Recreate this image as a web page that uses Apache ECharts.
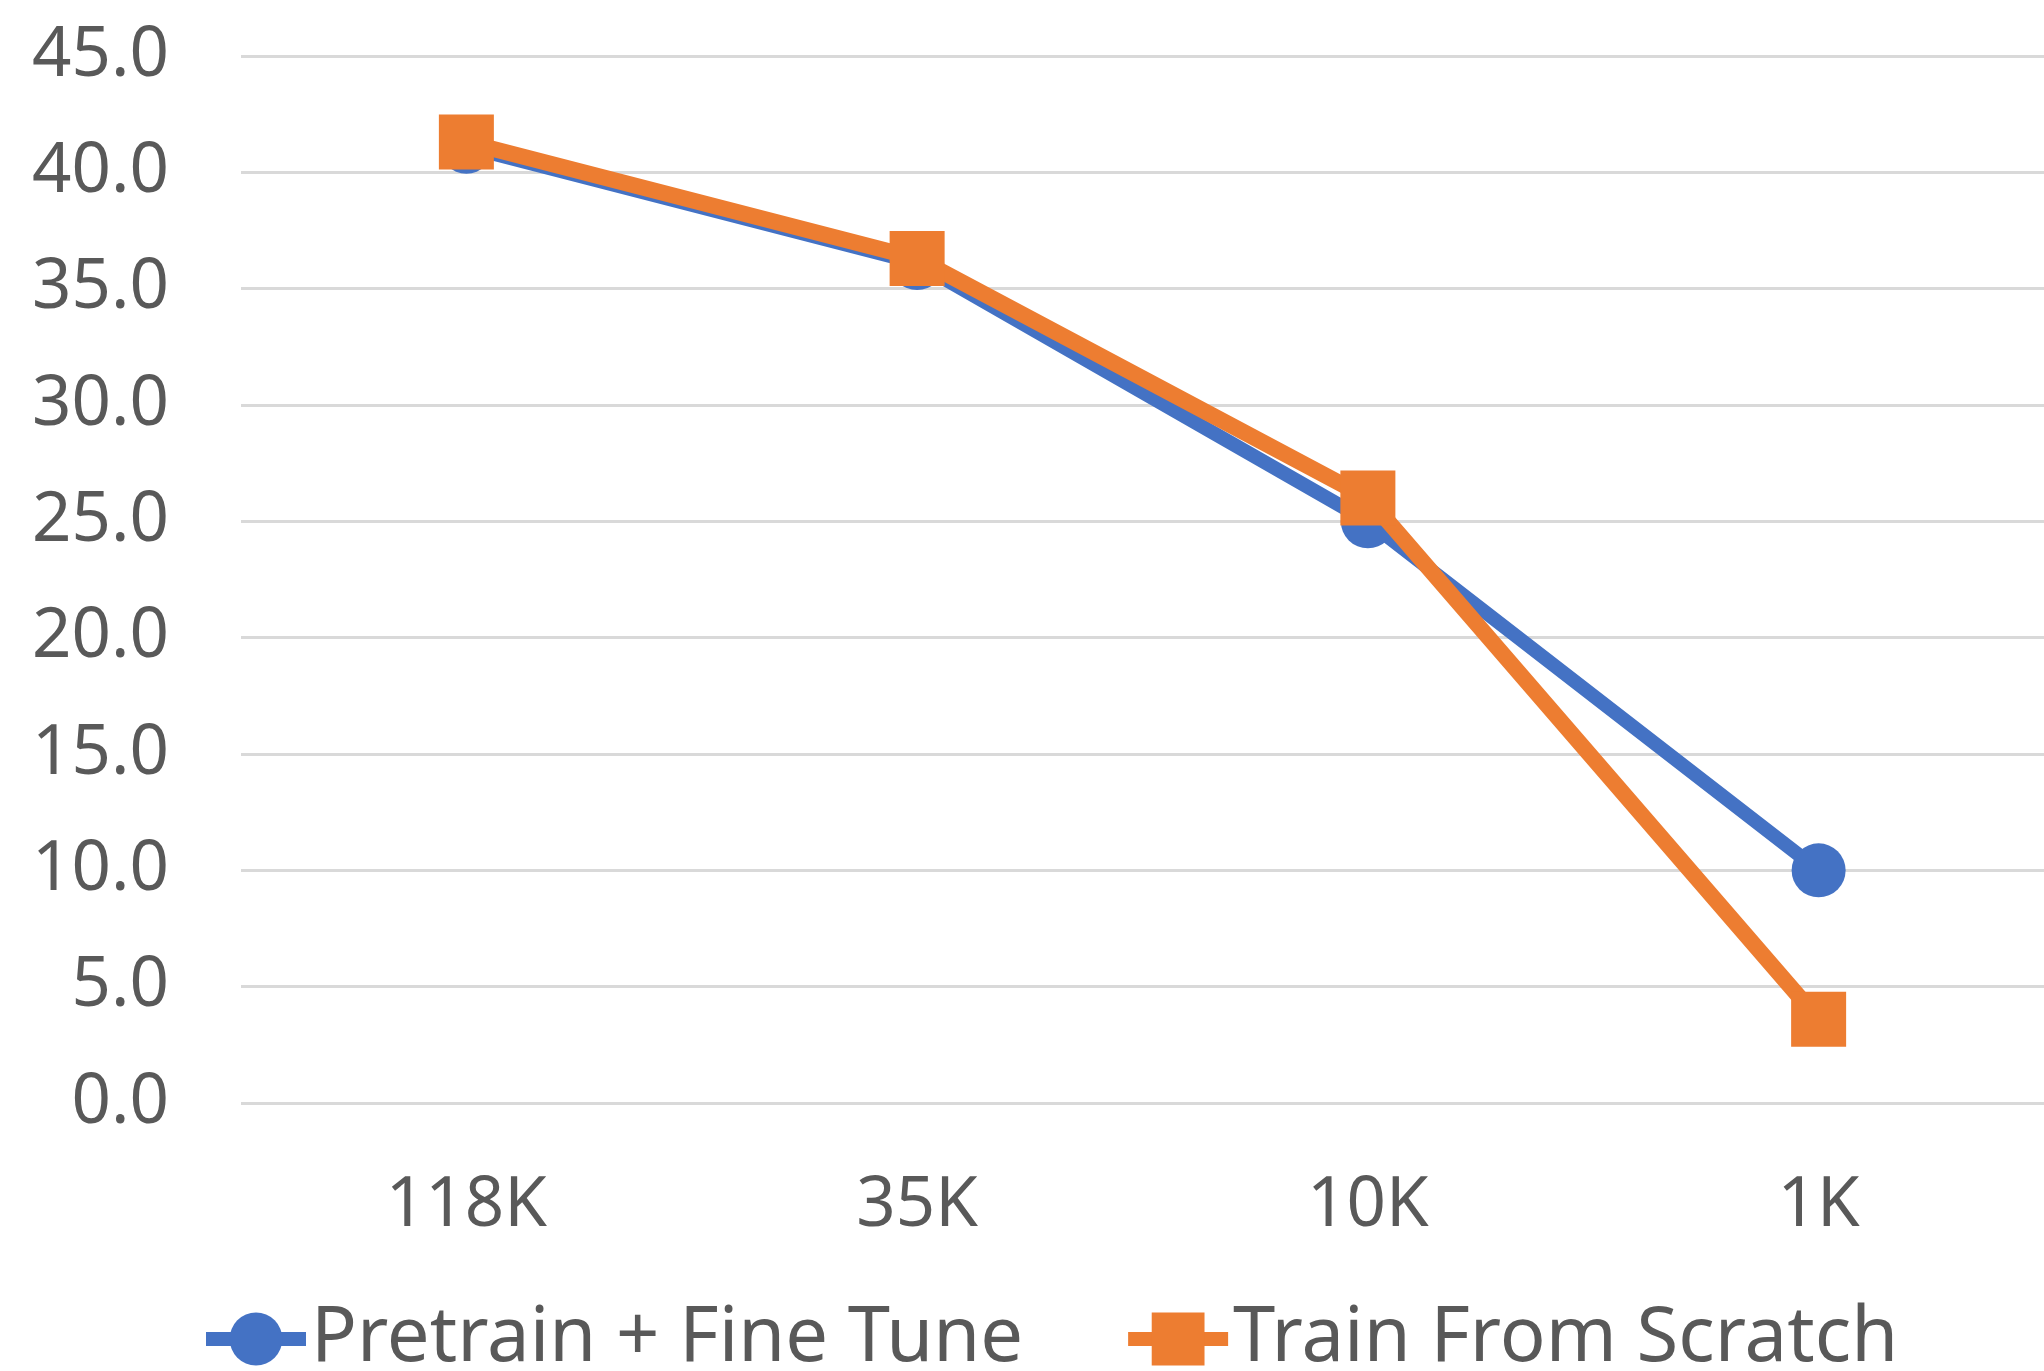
<!DOCTYPE html>
<html>
<head>
<meta charset="utf-8">
<script src="https://cdn.jsdelivr.net/npm/echarts@6/dist/echarts.min.js"></script>
<style>
html,body{margin:0;padding:0;background:#fff;}
#chart{width:2044px;height:1371px;}
</style>
</head>
<body>
<div id="chart"></div>
<script>
const categories = ['118K', '35K', '10K', '1K'];
const pretrainFineTune = [41.1, 36.1, 25.0, 10.0];
const trainFromScratch = [41.3, 36.3, 26.0, 3.6];
const seriesNames = ['Pretrain + Fine Tune', 'Train From Scratch'];

const chart = echarts.init(document.getElementById('chart'));
const textColor = '#595959';
const font = 'Noto Sans';
chart.setOption({
  animation: false,
  backgroundColor: '#ffffff',
  grid: { left: 241, width: 1810, top: 56, bottom: 268 },
  legend: {
    data: seriesNames,
    left: 194,
    top: 1296,
    itemWidth: 100,
    itemHeight: 66,
    itemGap: 98,
    lineStyle: { width: 14 },
    textStyle: { fontFamily: font, fontSize: 76, color: textColor }
  },
  xAxis: {
    type: 'category',
    data: categories,
    boundaryGap: true,
    axisLine: { show: false },
    axisTick: { show: false },
    axisLabel: { fontFamily: font, fontSize: 69, color: textColor, margin: 69 }
  },
  yAxis: {
    type: 'value',
    min: 0,
    max: 45,
    interval: 5,
    axisLine: { show: false },
    axisTick: { show: false },
    splitLine: { lineStyle: { color: '#d9d9d9', width: 3 } },
    axisLabel: {
      fontFamily: font, fontSize: 69, color: textColor, margin: 72,
      formatter: v => v.toFixed(1)
    }
  },
  series: [
    {
      name: seriesNames[0],
      type: 'line',
      data: pretrainFineTune,
      symbol: 'circle',
      symbolSize: 54,
      itemStyle: { color: '#4472C4' },
      lineStyle: { color: '#4472C4', width: 14 },
      z: 2
    },
    {
      name: seriesNames[1],
      type: 'line',
      data: trainFromScratch,
      symbol: 'rect',
      symbolSize: 55,
      itemStyle: { color: '#ED7D31' },
      lineStyle: { color: '#ED7D31', width: 16 },
      z: 3
    }
  ]
});
</script>
</body>
</html>
